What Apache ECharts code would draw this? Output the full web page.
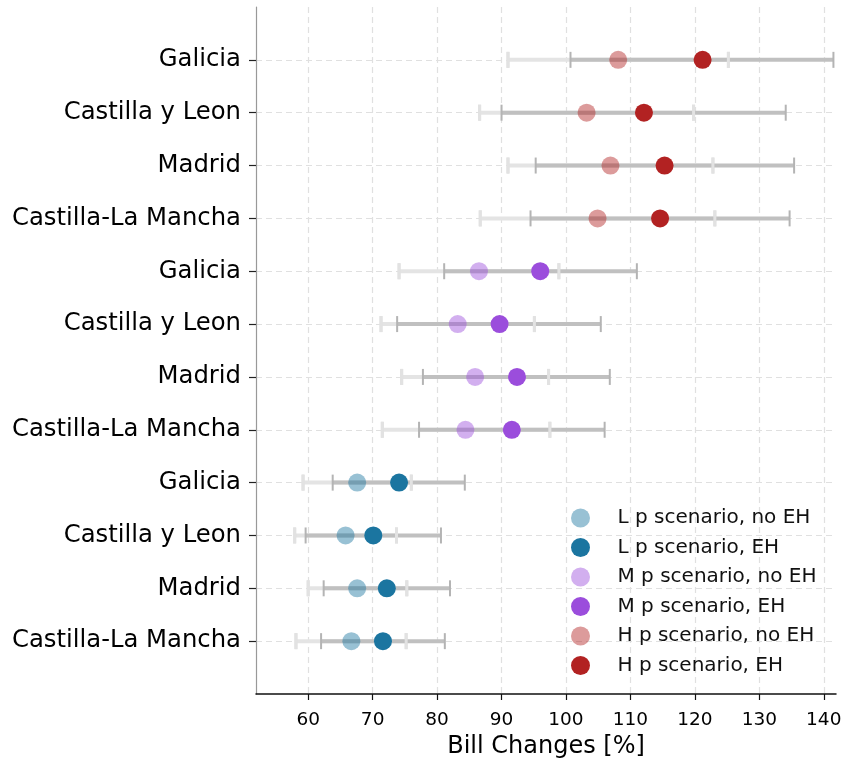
<!DOCTYPE html>
<html>
<head>
<meta charset="utf-8">
<script src="https://cdn.jsdelivr.net/npm/echarts@6/dist/echarts.min.js"></script>
<style>
  html, body { margin: 0; padding: 0; background: #fff; }
  #chart { width: 846px; height: 763px; }
</style>
</head>
<body>
<div id="chart"></div>
<script>
// Regions, listed top to bottom inside each price scenario block
const regions = ['Galicia', 'Castilla y Leon', 'Madrid', 'Castilla-La Mancha'];
const xTicks = [60, 70, 80, 90, 100, 110, 120, 130, 140];

// Bill changes [%] per region (same order as `regions`)
// L price scenario
const lNoEhMid  = [67.6, 65.8, 67.6, 66.7];
const lNoEhLow  = [59.2, 57.9, 60.0, 58.1];
const lNoEhHigh = [76.0, 73.7, 75.3, 75.2];
const lEhMid    = [74.1, 70.1, 72.2, 71.6];
const lEhLow    = [63.8, 59.6, 62.4, 62.0];
const lEhHigh   = [84.3, 80.6, 82.0, 81.2];
// M price scenario
const mNoEhMid  = [86.5, 83.2, 85.9, 84.4];
const mNoEhLow  = [74.1, 71.3, 74.5, 71.5];
const mNoEhHigh = [98.9, 95.1, 97.3, 97.5];
const mEhMid    = [96.0, 89.7, 92.4, 91.6];
const mEhLow    = [81.1, 73.8, 77.8, 77.2];
const mEhHigh   = [111.0, 105.4, 106.8, 106.0];
// H price scenario
const hNoEhMid  = [108.1, 103.2, 106.9, 104.9];
const hNoEhLow  = [91.0, 86.6, 91.0, 86.7];
const hNoEhHigh = [125.2, 119.8, 122.8, 123.1];
const hEhMid    = [121.2, 112.1, 115.3, 114.6];
const hEhLow    = [100.7, 90.0, 95.3, 94.5];
const hEhHigh   = [141.5, 134.1, 135.4, 134.7];

const seriesNames = [
  'L p scenario, no EH', 'L p scenario, EH',
  'M p scenario, no EH', 'M p scenario, EH',
  'H p scenario, no EH', 'H p scenario, EH'
];
const baseColors = ['#1b75a0', '#1b75a0', '#9b4ddc', '#9b4ddc', '#b22222', '#b22222'];

// Row position: L block at the bottom, H block at the top
const nR = regions.length;
function rowPos(block, r) { return block * nR + (nR - 1 - r); }
const rowLabels = [];
for (let b = 0; b < 3; b++) for (let r = nR - 1; r >= 0; r--) rowLabels.push(regions[r]);
const rowTicks = rowLabels.map((_, i) => i);

const groups = [
  { block: 0, mid: lNoEhMid, low: lNoEhLow, high: lNoEhHigh, eh: false },
  { block: 0, mid: lEhMid,   low: lEhLow,   high: lEhHigh,   eh: true },
  { block: 1, mid: mNoEhMid, low: mNoEhLow, high: mNoEhHigh, eh: false },
  { block: 1, mid: mEhMid,   low: mEhLow,   high: mEhHigh,   eh: true },
  { block: 2, mid: hNoEhMid, low: hNoEhLow, high: hNoEhHigh, eh: false },
  { block: 2, mid: hEhMid,   low: hEhLow,   high: hEhHigh,   eh: true }
];

function barData(eh) {
  const out = [];
  groups.forEach(g => {
    if (g.eh !== eh) return;
    g.low.forEach((lo, r) => out.push([lo, g.high[r], rowPos(g.block, r)]));
  });
  return out;
}

// Error bar renderer: horizontal whisker and/or end caps
function makeBarRenderer(opts) {
  return function (params, api) {
    const y = api.value(2);
    const a = api.coord([api.value(0), y]);
    const b = api.coord([api.value(1), y]);
    const children = [];
    if (opts.line) {
      children.push({
        type: 'line',
        shape: { x1: a[0], y1: a[1], x2: b[0], y2: b[1] },
        style: { stroke: opts.lineColor, lineWidth: opts.lineWidth }
      });
    }
    if (opts.caps) {
      [a, b].forEach(p => children.push({
        type: 'line',
        shape: { x1: p[0], y1: p[1] - opts.capHalf, x2: p[0], y2: p[1] + opts.capHalf },
        style: { stroke: opts.capColor, lineWidth: opts.capWidth }
      }));
    }
    return { type: 'group', children: children };
  };
}

const series = [];
series.push({
  type: 'custom', silent: true, z: 1,
  renderItem: makeBarRenderer({ line: true, caps: true, lineColor: '#e4e4e4', lineWidth: 4,
                                capColor: '#e0e0e0', capWidth: 3, capHalf: 8 }),
  encode: { x: [0, 1], y: 2 },
  data: barData(false)
});
series.push({
  type: 'custom', silent: true, z: 2,
  renderItem: makeBarRenderer({ line: true, caps: true, lineColor: '#c0c0c0', lineWidth: 4,
                                capColor: '#b4b4b4', capWidth: 2, capHalf: 8 }),
  encode: { x: [0, 1], y: 2 },
  data: barData(true)
});
series.push({
  type: 'custom', silent: true, z: 3,
  renderItem: makeBarRenderer({ line: false, caps: true, capColor: '#e2e2e2', capWidth: 3, capHalf: 8 }),
  encode: { x: [0, 1], y: 2 },
  data: barData(false)
});

groups.forEach((g, i) => {
  series.push({
    name: seriesNames[i],
    type: 'scatter',
    z: g.eh ? 5 : 4,
    symbol: 'circle',
    symbolSize: 18,
    itemStyle: { color: baseColors[i], opacity: g.eh ? 1 : 0.45 },
    emphasis: { disabled: true },
    data: g.mid.map((v, r) => [v, rowPos(g.block, r)])
  });
});

const chart = echarts.init(document.getElementById('chart'), null, { renderer: 'canvas' });
chart.setOption({
  animation: false,
  backgroundColor: '#ffffff',
  textStyle: { fontFamily: 'DejaVu Sans' },
  grid: { left: 256, right: 10, top: 7, bottom: 69, containLabel: false, outerBoundsMode: 'none' },
  xAxis: {
    type: 'value',
    min: 51.9,
    max: 141.9,
    name: 'Bill Changes [%]',
    nameLocation: 'middle',
    nameGap: 41,
    nameTextStyle: { fontSize: 24, color: '#000', fontFamily: 'DejaVu Sans' },
    axisLine: { show: true, onZero: false, lineStyle: { color: '#111', width: 1.5 } },
    axisTick: { show: true, customValues: xTicks, length: 6, lineStyle: { color: '#111', width: 1.2 } },
    axisLabel: { customValues: xTicks, fontSize: 18.5, color: '#000', margin: 17, fontFamily: 'DejaVu Sans' },
    splitLine: { show: true, lineStyle: { color: '#e0e0e0', type: [6, 4], width: 1.2 } }
  },
  yAxis: {
    type: 'value',
    min: -1,
    max: 12,
    axisLine: { show: true, onZero: false, lineStyle: { color: '#999', width: 1.2 } },
    axisTick: { show: true, customValues: rowTicks, length: 7, lineStyle: { color: '#222', width: 1.2 } },
    axisLabel: {
      customValues: rowTicks, fontSize: 24.3, color: '#000', margin: 15, fontFamily: 'DejaVu Sans',
      formatter: v => rowLabels[Math.round(v)] || ''
    },
    splitLine: { show: true, lineStyle: { color: '#e0e0e0', type: [6, 4], width: 1.2 } }
  },
  legend: {
    data: seriesNames,
    orient: 'vertical',
    left: 566,
    top: 503,
    icon: 'circle',
    itemWidth: 64,
    itemHeight: 19,
    itemGap: 9.5,
    textStyle: { fontSize: 20, color: '#111', fontFamily: 'DejaVu Sans', lineHeight: 20 },
    selectedMode: false
  },
  series: series
});
</script>
</body>
</html>
